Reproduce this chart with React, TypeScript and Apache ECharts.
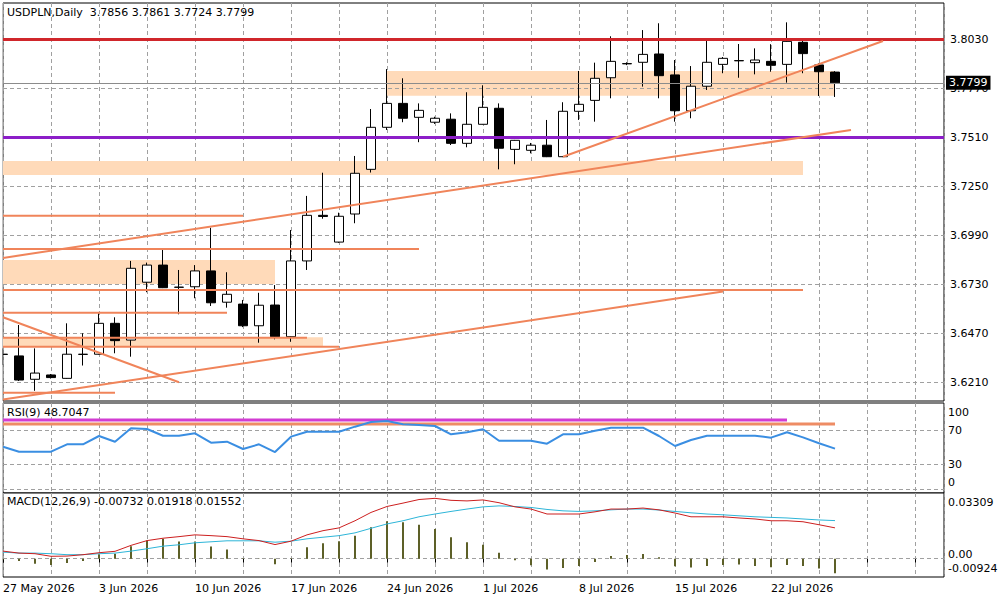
import React, { useEffect, useRef } from 'react';
import * as echarts from 'echarts';

// ---- bar dates (daily bars, including Sunday sessions) ----
const dates = [
  '27 May 2026', '28 May 2026', '29 May 2026', '31 May 2026', '1 Jun 2026', '2 Jun 2026',
  '3 Jun 2026', '4 Jun 2026', '5 Jun 2026', '7 Jun 2026', '8 Jun 2026', '9 Jun 2026',
  '10 Jun 2026', '11 Jun 2026', '12 Jun 2026', '14 Jun 2026', '15 Jun 2026', '16 Jun 2026',
  '17 Jun 2026', '18 Jun 2026', '19 Jun 2026', '21 Jun 2026', '22 Jun 2026', '23 Jun 2026',
  '24 Jun 2026', '25 Jun 2026', '26 Jun 2026', '28 Jun 2026', '29 Jun 2026', '30 Jun 2026',
  '1 Jul 2026', '2 Jul 2026', '3 Jul 2026', '5 Jul 2026', '6 Jul 2026', '7 Jul 2026',
  '8 Jul 2026', '9 Jul 2026', '10 Jul 2026', '12 Jul 2026', '13 Jul 2026', '14 Jul 2026',
  '15 Jul 2026', '16 Jul 2026', '17 Jul 2026', '19 Jul 2026', '20 Jul 2026', '21 Jul 2026',
  '22 Jul 2026', '23 Jul 2026', '24 Jul 2026', '26 Jul 2026', '27 Jul 2026',
];

// ---- OHLC ----
const opens = [
  3.6359, 3.6350, 3.6226, 3.6249, 3.6231, 3.6358, 3.6359, 3.6523, 3.6434, 3.6741,
  3.6832, 3.6715, 3.6717, 3.6801, 3.6635, 3.6625, 3.6510, 3.6620, 3.6452, 3.6854,
  3.7096, 3.6954, 3.7103, 3.7340, 3.7563, 3.7690, 3.7616, 3.7590, 3.7606, 3.7478,
  3.7579, 3.7664, 3.7446, 3.7441, 3.7468, 3.7407, 3.7648, 3.7706, 3.7826, 3.7901,
  3.7908, 3.7952, 3.7841, 3.7651, 3.7781, 3.7897, 3.7917, 3.7906, 3.7913, 3.7897,
  3.8014, 3.7894, 3.7856,
];
const highs = [
  3.6390, 3.6514, 3.6390, 3.6254, 3.6523, 3.6470, 3.6576, 3.6555, 3.6854, 3.6845,
  3.6912, 3.6806, 3.6832, 3.7030, 3.6794, 3.6647, 3.6685, 3.6726, 3.7018, 3.7199,
  3.7322, 3.7110, 3.7411, 3.7660, 3.7872, 3.7823, 3.7690, 3.7619, 3.7637, 3.7749,
  3.7786, 3.7690, 3.7496, 3.7480, 3.7602, 3.7696, 3.7862, 3.7906, 3.8046, 3.7908,
  3.8079, 3.8115, 3.7920, 3.7888, 3.8032, 3.7936, 3.8005, 3.7982, 3.8004, 3.8120,
  3.8030, 3.7903, 3.7861,
];
const lows = [
  3.6302, 3.6217, 3.6165, 3.6230, 3.6229, 3.6299, 3.6357, 3.6364, 3.6346, 3.6688,
  3.6710, 3.6571, 3.6656, 3.6615, 3.6606, 3.6503, 3.6420, 3.6438, 3.6425, 3.6806,
  3.7078, 3.6950, 3.7054, 3.7323, 3.7549, 3.7590, 3.7484, 3.7581, 3.7469, 3.7457,
  3.7578, 3.7340, 3.7367, 3.7425, 3.7405, 3.7405, 3.7602, 3.7593, 3.7717, 3.7893,
  3.7779, 3.7717, 3.7593, 3.7611, 3.7761, 3.7850, 3.7826, 3.7844, 3.7858, 3.7800,
  3.7850, 3.7729, 3.7724,
];
const closes = [
  3.6358, 3.6222, 3.6259, 3.6235, 3.6359, 3.6359, 3.6523, 3.6431, 3.6815, 3.6832,
  3.6712, 3.6714, 3.6801, 3.6632, 3.6677, 3.6510, 3.6619, 3.6452, 3.6854, 3.7096,
  3.7090, 3.7091, 3.7319, 3.7563, 3.7690, 3.7611, 3.7653, 3.7611, 3.7478, 3.7579,
  3.7669, 3.7452, 3.7494, 3.7468, 3.7407, 3.7648, 3.7685, 3.7823, 3.7913, 3.7900,
  3.7950, 3.7837, 3.7651, 3.7781, 3.7908, 3.7929, 3.7916, 3.7920, 3.7892, 3.8019,
  3.7954, 3.7858, 3.7799,
];

// ---- RSI(9) ----
const rsi = [
  50.9, 45.0, 45.0, 45.0, 53.8, 53.8, 63.7, 56.9, 72.9, 72.0,
  64.0, 64.0, 66.9, 55.7, 56.9, 48.2, 53.8, 44.6, 62.9, 68.8,
  68.8, 68.8, 74.8, 80.4, 81.5, 77.6, 76.8, 75.6, 65.7, 68.1,
  71.7, 58.1, 58.1, 58.1, 54.5, 65.7, 65.7, 70.0, 73.6, 73.6,
  73.6, 63.7, 51.8, 58.9, 64.0, 64.0, 64.0, 64.0, 61.7, 68.1,
  62.1, 55.0, 48.7047,
];

// ---- MACD(12,26,9) ----
const macdHist = [
  -0.0004, -0.0012, -0.0025, -0.0032, -0.0022, -0.0012, 0.0022, 0.0025, 0.0063, 0.0091,
  0.0100, 0.0086, 0.0086, 0.0061, 0.0046, 0.0002, 0.0001, -0.0028, 0.0002, 0.0058,
  0.0078, 0.0088, 0.0116, 0.0158, 0.0188, 0.0183, 0.0171, 0.0150, 0.0108, 0.0083,
  0.0070, 0.0030, -0.0008, -0.0033, -0.0055, -0.0047, -0.0037, -0.0017, 0.0013, 0.0018,
  0.0023, 0.0007, -0.0038, -0.0045, -0.0037, -0.0032, -0.0030, -0.0037, -0.0043, -0.0032,
  -0.0037, -0.0050, -0.00732,
];
const macdCyan = [
  0.0033, 0.0028, 0.0028, 0.0025, 0.0020, 0.0020, 0.0025, 0.0028, 0.0038, 0.0050,
  0.0063, 0.0070, 0.0080, 0.0085, 0.0090, 0.0090, 0.0090, 0.0083, 0.0088, 0.0100,
  0.0108, 0.0116, 0.0130, 0.0153, 0.0175, 0.0191, 0.0211, 0.0225, 0.0238, 0.0250,
  0.0261, 0.0266, 0.0263, 0.0258, 0.0248, 0.0241, 0.0238, 0.0241, 0.0246, 0.0250,
  0.0250, 0.0245, 0.0238, 0.0231, 0.0225, 0.0221, 0.0216, 0.0211, 0.0208, 0.0205,
  0.0200, 0.0195, 0.01918,
];
const macdRed = [
  0.0038, 0.0028, 0.0025, 0.0012, 0.0013, 0.0020, 0.0030, 0.0037, 0.0067, 0.0091,
  0.0103, 0.0111, 0.0120, 0.0116, 0.0111, 0.0100, 0.0091, 0.0071, 0.0088, 0.0120,
  0.0141, 0.0155, 0.0191, 0.0233, 0.0263, 0.0280, 0.0298, 0.0304, 0.0294, 0.0291,
  0.0296, 0.0282, 0.0261, 0.0250, 0.0225, 0.0225, 0.0225, 0.0236, 0.0250, 0.0250,
  0.0255, 0.0246, 0.0230, 0.0211, 0.0211, 0.0211, 0.0205, 0.0200, 0.0191, 0.0191,
  0.0186, 0.0171, 0.01552,
];

// ---- axis tick labels ----
const priceTicks = [3.8030, 3.7770, 3.7510, 3.7250, 3.6990, 3.6730, 3.6470, 3.6210];
const rsiGridTicks = [70, 30, 0];
const macdZero = 0;
const macdTop = 0.03309;
const macdBottom = -0.00924;

// ---- drawn objects (bar index, price) ----
// zones: [fromBar, priceA, toBar, priceB]
const zones = [
  [24, 3.7862, 52, 3.7731],
  [0, 3.7384, 50, 3.7310],
  [0, 3.6859, 17, 3.6732],
  [0, 3.6449, 20, 3.6399],
];
// horizontal segments: [fromBar, toBar, price]
const segments = [
  [0, 15, 3.7094],
  [0, 26, 3.6917],
  [0, 50, 3.6700],
  [0, 14, 3.6579],
  [0, 19, 3.6447],
  [0, 21, 3.6399],
  [0, 7, 3.6155],
];
// trend lines: [fromBar, fromPrice, toBar, toPrice]
const trends = [
  [0, 3.6870, 53, 3.7549],
  [0, 3.6119, 45, 3.6692],
  [0, 3.6555, 11, 3.6210],
  [35, 3.7407, 55, 3.8021],
];
const resistance = 3.8030;
const support = 3.7508;
const bid = closes[closes.length - 1];
// RSI drawn levels: [fromBar, toBar, value]
const rsiMagenta = [0, 49, 82.7];
const rsiCoral = [0, 52, 78.0];

const FONT = 'DejaVu Sans';
const GRIDC = '#a0a0a0';
const CORAL = '#f0845a';
const XMAX = 58.8125;
const HIDDEN = 'rgba(0,0,0,0)';

export default function App() {
  const ref = useRef<HTMLDivElement>(null);

  useEffect(() => {
    if (!ref.current) return;
    const chart = echarts.init(ref.current, undefined, { renderer: 'svg' });

    const n = opens.length;
    const last = n - 1;
    const candleData = opens.map((o, i) => [i, o, closes[i], lows[i], highs[i]]);

    const xAxisBase = (g: number) => ({
      type: 'value',
      gridIndex: g,
      min: 0,
      max: XMAX,
      interval: 3,
      axisLine: { show: false },
      axisTick: { show: false },
      axisLabel: { show: false },
      splitLine: { show: true, lineStyle: { color: GRIDC, type: [4, 3], width: 1 } },
    });

    const labelStyle = { color: '#000', fontFamily: FONT, fontSize: 11 };
    const gridBase = {
      left: 3,
      width: 941,
      show: true,
      borderColor: '#000',
      borderWidth: 1,
      backgroundColor: '#fff',
      containLabel: false,
      outerBoundsMode: 'none',
    };

    const segSeries = segments.map((s) => ({
      type: 'line',
      xAxisIndex: 0,
      yAxisIndex: 0,
      data: [[s[0], s[2]], [s[1], s[2]]],
      symbol: 'none',
      silent: true,
      z: 3,
      lineStyle: { color: CORAL, width: 2 },
    }));
    const trendSeries = trends.map((t) => ({
      type: 'line',
      xAxisIndex: 0,
      yAxisIndex: 0,
      data: [[t[0], t[1]], [t[2], t[3]]],
      symbol: 'none',
      silent: true,
      z: 3,
      lineStyle: { color: CORAL, width: 2 },
    }));

    const option: any = {
      animation: false,
      backgroundColor: '#fff',
      title: [
        {
          text: `USDPLN,Daily  ${opens[last].toFixed(4)} ${highs[last].toFixed(4)} ${lows[last].toFixed(4)} ${closes[last].toFixed(4)}`,
          left: 7, top: 7, padding: 0,
          textStyle: { ...labelStyle, fontWeight: 'normal' },
        },
        {
          text: `RSI(9) ${rsi[last].toFixed(4)}`,
          left: 7, top: 407, padding: 0,
          textStyle: { ...labelStyle, fontWeight: 'normal' },
        },
        {
          text: `MACD(12,26,9) ${macdHist[last].toFixed(5)} ${macdCyan[last].toFixed(5)} ${macdRed[last].toFixed(5)}`,
          left: 7, top: 496, padding: 0,
          textStyle: { ...labelStyle, fontWeight: 'normal' },
        },
      ],
      grid: [
        { ...gridBase, top: 3, height: 398 },
        { ...gridBase, top: 403, height: 90 },
        { ...gridBase, top: 493, height: 84 },
      ],
      xAxis: [
        xAxisBase(0),
        xAxisBase(1),
        {
          ...xAxisBase(2),
          position: 'bottom',
          axisTick: { show: true, inside: false, length: 4, lineStyle: { color: '#000' } },
          axisLabel: {
            show: true,
            ...labelStyle,
            align: 'left',
            margin: 6,
            showMinLabel: true,
            showMaxLabel: false,
            hideOverlap: false,
            formatter: (v: number) => {
              const i = Math.round(v);
              return Math.abs(v - i) < 1e-6 && i % 6 === 0 && dates[i] ? dates[i] : '';
            },
          },
        },
      ],
      yAxis: [
        { type: 'value', gridIndex: 0, min: 3.61108, max: 3.82226, show: false, splitLine: { show: false } },
        { type: 'value', gridIndex: 1, min: -4.17, max: 102.98, show: false, splitLine: { show: false } },
        { type: 'value', gridIndex: 2, min: macdBottom, max: macdTop, show: false, splitLine: { show: false } },
      ],
      graphic: [
        // mask the part of the first candle that falls left of the chart frame
        { type: 'rect', left: 0, top: 0, shape: { width: 2.5, height: 600 }, style: { fill: '#fff' }, z: 100, silent: true },
      ],
      series: [
        // zones
        {
          type: 'line',
          xAxisIndex: 0,
          yAxisIndex: 0,
          data: [],
          silent: true,
          markArea: {
            silent: true,
            z: 1,
            itemStyle: { color: '#ffdab9' },
            data: zones.map((r) => [{ coord: [r[0], r[1]] }, { coord: [r[2], r[3]] }]),
          },
        },
        // price grid lines + labels
        {
          type: 'line',
          xAxisIndex: 0,
          yAxisIndex: 0,
          data: [],
          silent: true,
          markLine: {
            silent: true,
            z: 1.5,
            precision: 6,
            symbol: ['none', 'none'],
            lineStyle: { color: GRIDC, type: [4, 3], width: 1 },
            label: { show: true, position: 'end', distance: 6, ...labelStyle },
            data: priceTicks.map((v) => ({ yAxis: v, label: { formatter: v.toFixed(4) } })),
          },
        },
        // candles
        {
          type: 'candlestick',
          xAxisIndex: 0,
          yAxisIndex: 0,
          data: candleData,
          barWidth: 9,
          z: 2,
          clip: true,
          silent: true,
          itemStyle: {
            color: '#ffffff',
            color0: '#000000',
            borderColor: '#000000',
            borderColor0: '#000000',
            borderColorDoji: '#000000',
            borderWidth: 1,
          },
        },
        // resistance / support / bid
        {
          type: 'line',
          xAxisIndex: 0,
          yAxisIndex: 0,
          data: [],
          silent: true,
          markLine: {
            silent: true,
            z: 3,
            precision: 6,
            symbol: ['none', 'none'],
            label: { show: false },
            data: [
              { yAxis: bid, lineStyle: { color: '#8c8c8c', width: 1, type: 'solid' },
                label: { show: true, position: 'end', distance: 2, formatter: bid.toFixed(4),
                  color: '#fff', backgroundColor: '#000', padding: [2, 3, 1, 3], fontFamily: FONT, fontSize: 11 } },
              { yAxis: resistance, lineStyle: { color: '#d0262b', width: 3, type: 'solid' } },
              { yAxis: support, lineStyle: { color: '#8c1ec8', width: 3, type: 'solid' } },
            ],
          },
        },
        ...segSeries,
        ...trendSeries,
        // RSI grid + labels
        {
          type: 'line',
          xAxisIndex: 1,
          yAxisIndex: 1,
          data: [],
          silent: true,
          markLine: {
            silent: true,
            z: 1.5,
            precision: 4,
            symbol: ['none', 'none'],
            lineStyle: { color: GRIDC, type: [4, 3], width: 1 },
            label: { show: true, position: 'end', distance: 4, ...labelStyle },
            data: [
              { yAxis: 100, lineStyle: { color: HIDDEN }, label: { formatter: '100', offset: [0, 7] } },
              ...rsiGridTicks.map((v) => ({
                yAxis: v,
                label: { formatter: String(v), offset: [0, v === 0 ? -7 : 0] },
              })),
            ],
          },
        },
        {
          type: 'line', xAxisIndex: 1, yAxisIndex: 1, symbol: 'none', silent: true, z: 2,
          data: [[rsiMagenta[0], rsiMagenta[2]], [rsiMagenta[1], rsiMagenta[2]]],
          lineStyle: { color: '#d23cd2', width: 3 },
        },
        {
          type: 'line', xAxisIndex: 1, yAxisIndex: 1, symbol: 'none', silent: true, z: 2,
          data: [[rsiCoral[0], rsiCoral[2]], [rsiCoral[1], rsiCoral[2]]],
          lineStyle: { color: '#ee8c64', width: 3 },
        },
        {
          type: 'line', xAxisIndex: 1, yAxisIndex: 1, symbol: 'none', silent: true, z: 3,
          data: rsi.map((v, i) => [i, v]),
          lineStyle: { color: '#3a8ee2', width: 2 },
        },
        // MACD grid + labels
        {
          type: 'line',
          xAxisIndex: 2,
          yAxisIndex: 2,
          data: [],
          silent: true,
          markLine: {
            silent: true,
            z: 1.5,
            precision: 8,
            symbol: ['none', 'none'],
            lineStyle: { color: GRIDC, type: [4, 3], width: 1 },
            label: { show: true, position: 'end', distance: 4, ...labelStyle },
            data: [
              { yAxis: macdTop - 1e-7, lineStyle: { color: HIDDEN }, label: { formatter: macdTop.toFixed(5), offset: [0, 9] } },
              { yAxis: macdZero, label: { formatter: macdZero.toFixed(2), offset: [0, -4] } },
              { yAxis: macdBottom + 1e-7, lineStyle: { color: HIDDEN }, label: { formatter: macdBottom.toFixed(5), offset: [0, -8] } },
            ],
          },
        },
        {
          type: 'bar', xAxisIndex: 2, yAxisIndex: 2, silent: true, z: 2,
          data: macdHist.map((v, i) => [i, v]),
          barWidth: 2,
          itemStyle: { color: '#5d6028' },
        },
        {
          type: 'line', xAxisIndex: 2, yAxisIndex: 2, symbol: 'none', silent: true, z: 3,
          data: macdCyan.map((v, i) => [i, v]),
          lineStyle: { color: '#2db5d8', width: 1 },
        },
        {
          type: 'line', xAxisIndex: 2, yAxisIndex: 2, symbol: 'none', silent: true, z: 3,
          data: macdRed.map((v, i) => [i, v]),
          lineStyle: { color: '#cc1f1f', width: 1 },
        },
      ],
    };

    chart.setOption(option);
    return () => chart.dispose();
  }, []);

  return (
    <div
      ref={ref}
      style={{ position: 'fixed', left: 0, top: 0, width: 1000, height: 600, background: '#fff' }}
    />
  );
}
